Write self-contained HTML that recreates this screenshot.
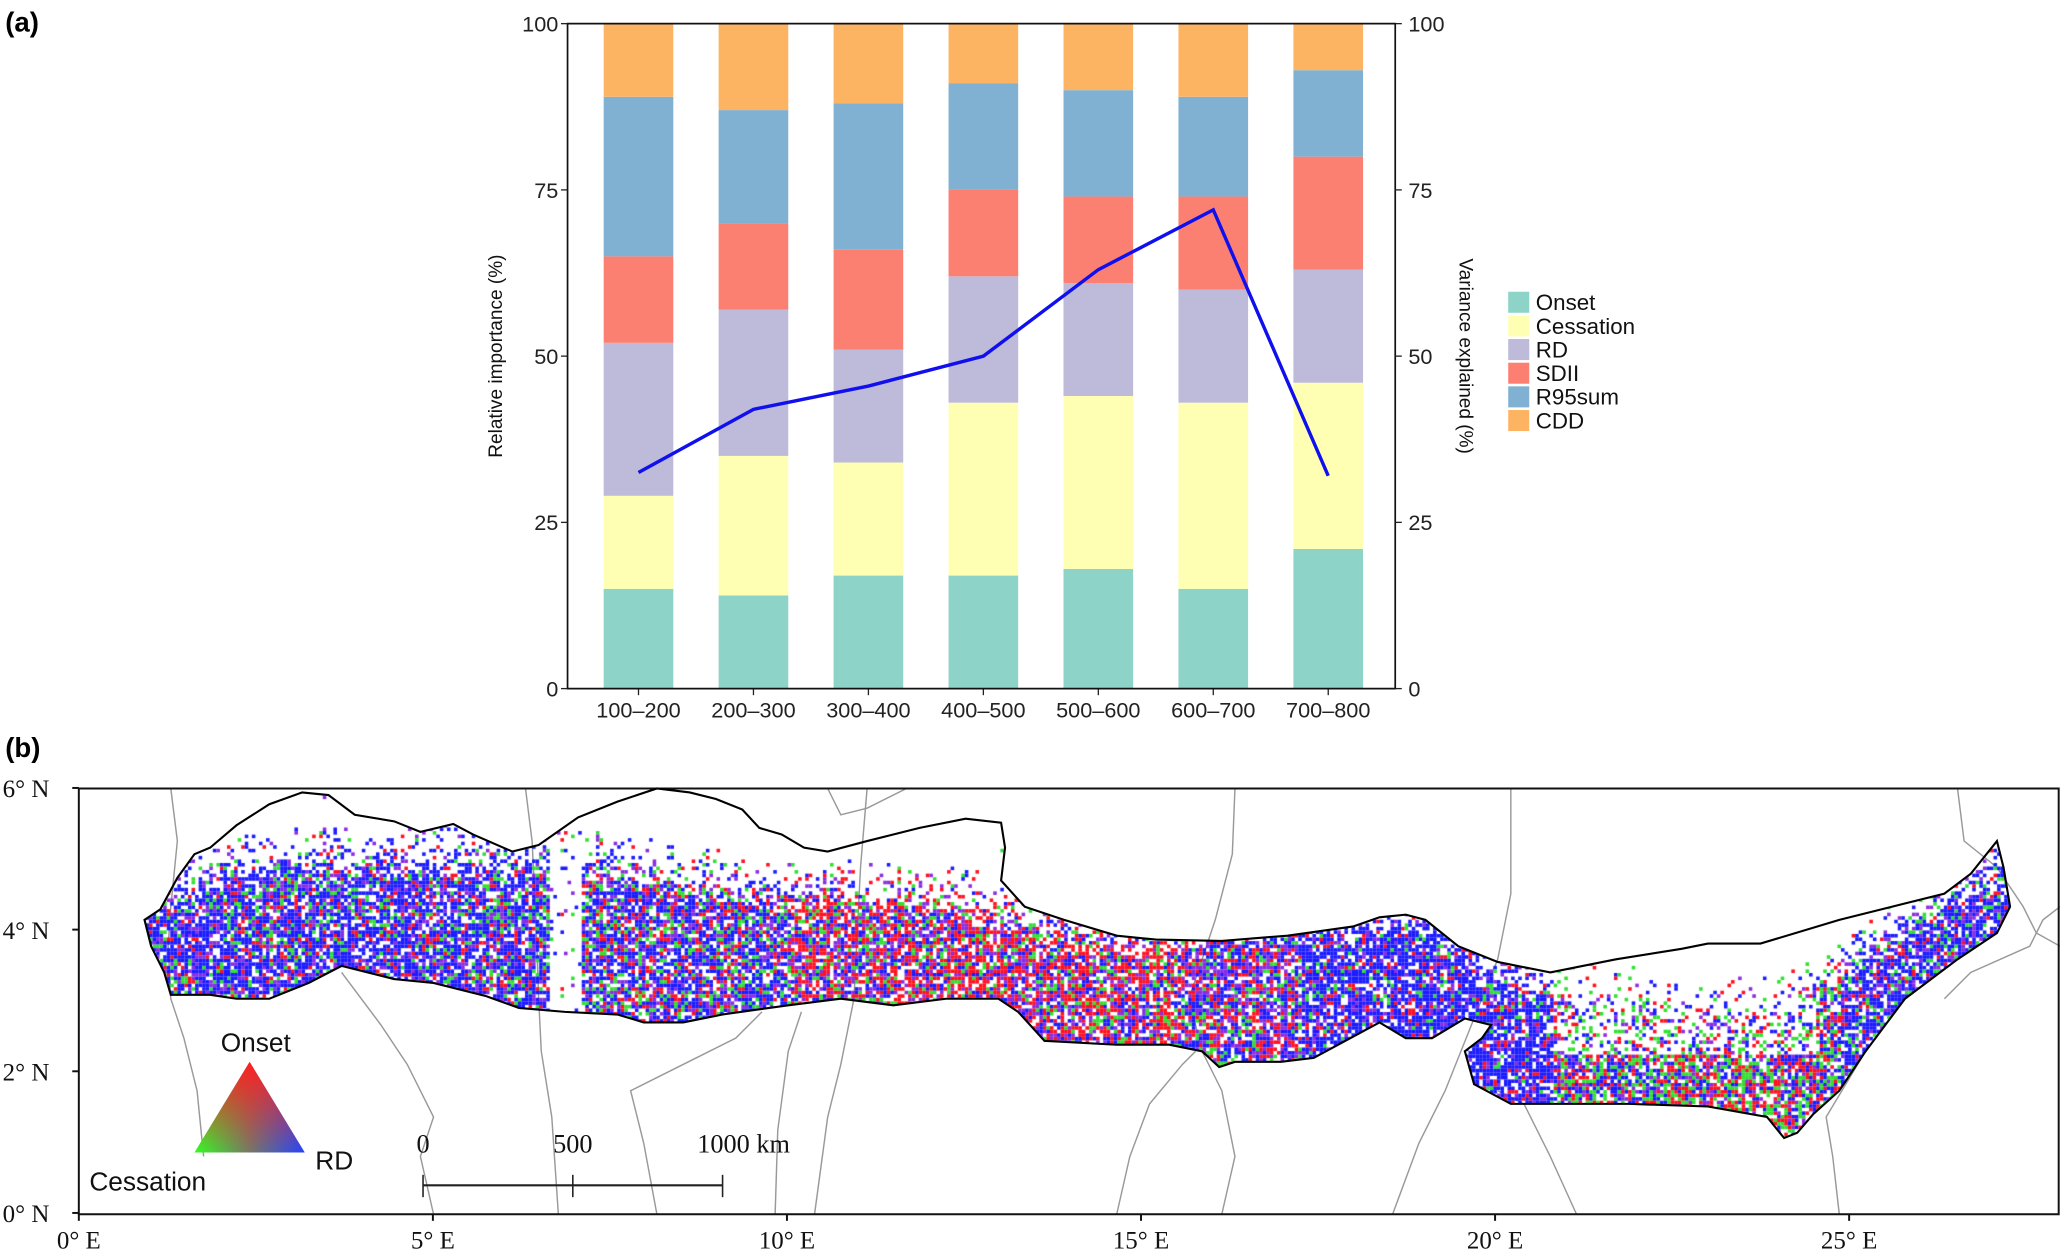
<!DOCTYPE html>
<html><head><meta charset="utf-8"><style>
html,body{margin:0;padding:0;background:#fff;}
#wrap{position:relative;width:2060px;height:1255px;overflow:hidden;}
svg,canvas{position:absolute;left:0;top:0;}
</style></head><body>
<div id="wrap">
<svg id="s" width="2060" height="1255" viewBox="0 0 1568 955" preserveAspectRatio="none">
<defs>
<linearGradient id="gb" x1="0" x2="1" y1="0" y2="0"><stop offset="0" stop-color="#33ff22"/><stop offset="0.5" stop-color="#777766"/><stop offset="1" stop-color="#2244ff"/></linearGradient>
<linearGradient id="gr" x1="0" x2="0" y1="0" y2="1"><stop offset="0" stop-color="#ff2020" stop-opacity="1"/><stop offset="1" stop-color="#ff2020" stop-opacity="0"/></linearGradient>
</defs>
<text x="4" y="24" font-family="Liberation Sans, sans-serif" font-weight="bold" font-size="21">(a)</text>
<text x="4" y="576" font-family="Liberation Sans, sans-serif" font-weight="bold" font-size="21">(b)</text>
<g id="chartA"></g>
<g id="mapB"></g>
</svg>
<canvas id="cv" width="2060" height="1255"></canvas>
<svg id="s2" width="2060" height="1255" viewBox="0 0 1568 955" preserveAspectRatio="none"><g id="ov"></g></svg>
</div>
<script>
const categories=["100–200","200–300","300–400","400–500","500–600","600–700","700–800"];
const seriesNames=["Onset","Cessation","RD","SDII","R95sum","CDD"];
const onset=[15,14,17,17,18,15,21];
const cessation=[14,21,17,26,26,28,25];
const rd=[23,22,17,19,17,17,17];
const sdii=[13,13,15,13,13,14,17];
const r95sum=[24,17,22,16,16,15,13];
const cdd=[11,13,12,9,10,11,7];
const varianceExplained=[32.5,42,45.5,50,63,72,32];
const yTicks=[0,25,50,75,100];
const colors=["#8dd3c7","#ffffb3","#bebada","#fb8072","#80b1d3","#fdb462"];
const NS="http://www.w3.org/2000/svg";
function mk(tag,attrs,parent){const e=document.createElementNS(NS,tag);for(const k in attrs)e.setAttribute(k,attrs[k]);parent.appendChild(e);return e;}
const L=432,R=1062,T=18,B=524;
const yS=v=>B-(v/100)*(B-T);
const xC=i=>486+i*((1011-486)/6);
const bw=53;
const g=document.getElementById('chartA');
const series=[onset,cessation,rd,sdii,r95sum,cdd];
categories.forEach((c,i)=>{let cum=0;series.forEach((s,k)=>{const r=mk('rect',{x:xC(i)-bw/2,y:yS(cum+s[i]),width:bw,height:yS(cum)-yS(cum+s[i]),fill:colors[k]},g);

cum+=s[i];});
const t=mk('text',{x:xC(i),y:546,'text-anchor':'middle','font-family':'Liberation Sans, sans-serif','font-size':'16.5',fill:'#222'},g);t.textContent=c;


mk('line',{x1:xC(i),x2:xC(i),y1:B,y2:B+5,stroke:'#222'},g);});
mk('path',{d:`M${L},${T}H${R}V${B}H${L}Z`,fill:'none',stroke:'#111','stroke-width':1.3},g);
yTicks.forEach(v=>{const a=mk('text',{x:425,y:yS(v)+6,'text-anchor':'end','font-family':'Liberation Sans, sans-serif','font-size':'16.5',fill:'#222'},g);a.textContent=v;


const b=mk('text',{x:1072,y:yS(v)+6,'font-family':'Liberation Sans, sans-serif','font-size':'16.5',fill:'#222'},g);b.textContent=v;


mk('line',{x1:L-5,x2:L,y1:yS(v),y2:yS(v),stroke:'#222'},g);mk('line',{x1:R,x2:R+5,y1:yS(v),y2:yS(v),stroke:'#222'},g);});
let yt=mk('text',{x:0,y:0,transform:'translate(382,271) rotate(-90)','text-anchor':'middle','font-family':'Liberation Sans, sans-serif','font-size':'14.5',fill:'#111'},g);yt.textContent='Relative importance (%)';


let yt2=mk('text',{x:0,y:0,transform:'translate(1111,271) rotate(90)','text-anchor':'middle','font-family':'Liberation Sans, sans-serif','font-size':'14.5',fill:'#111'},g);yt2.textContent='Variance explained (%)';


const ln=mk('polyline',{points:varianceExplained.map((v,i)=>xC(i)+','+yS(v)).join(' '),fill:'none',stroke:'#1010ee','stroke-width':2.6},g);


seriesNames.forEach((n,k)=>{const y=222+k*18;const r=mk('rect',{x:1148,y:y,width:16,height:16,fill:colors[k]},g);


const t=mk('text',{x:1169,y:y+14,'font-family':'Liberation Sans, sans-serif','font-size':'17',fill:'#111'},g);t.textContent=n;

});

// ---- Map panel ----
const m=document.getElementById('mapB');
const ML=60,MT=600,MB=924;
const lonX=l=>60+l*53.9, latY=a=>923-a*53.9;
const borders=["130,600 135,640 130,690 128,720 130,760 140,790 150,830 155,880",
"400,600 405,640 408,700 410,760 412,800 420,850 425,924",
"660,600 655,660 652,720 650,760 640,810 630,850 620,924",
"940,600 938,650 925,700 905,760 915,800 930,830 940,880 930,924",
"1150,600 1150,680 1140,730 1120,780 1100,830 1080,870 1060,924",
"1490,600 1495,640 1520,660 1540,690 1550,710 1568,720",
"330,924 320,880 330,850 310,810 290,780 260,740",
"500,924 490,870 480,830 520,810 560,790 580,770",
"590,924 592,860 600,800 610,770",
"850,924 860,880 875,840 900,810 910,800",
"1200,924 1180,880 1160,840 1140,830",
"1400,924 1395,880 1390,850 1420,800",
"630,600 640,620 660,615 690,600",
"1568,690 1555,700 1545,720 1500,740 1480,760"];
borders.forEach(p=>{const e=mk('polyline',{points:p,fill:'none',stroke:'#999','stroke-width':1.1},m);

});
const outline=[[110,700],[122,692],[135,668],[148,650],[160,645],[180,628],[205,612],[230,603],[250,605],[270,620],[300,625],[320,633],[345,627],[360,635],[390,648],[410,643],[440,622],[470,610],[500,600],[525,603],[545,608],[565,616],[578,630],[595,635],[612,645],[630,648],[660,640],[700,630],[735,623],[762,626],[765,645],[762,670],[780,690],[810,700],[850,712],[880,715],[930,716],[980,712],[1030,705],[1050,698],[1070,696],[1085,700],[1110,720],[1140,732],[1180,740],[1230,730],[1280,722],[1300,718],[1340,718],[1400,700],[1440,690],[1480,680],[1500,665],[1520,640],[1525,660],[1530,690],[1520,710],[1490,730],[1450,760],[1420,800],[1400,830],[1380,848],[1368,862],[1358,866],[1345,850],[1300,842],[1240,840],[1150,840],[1122,825],[1115,800],[1128,790],[1135,780],[1115,775],[1090,790],[1070,790],[1050,778],[1000,805],[975,808],[940,808],[928,812],[915,800],[890,795],[850,795],[795,792],[775,770],[760,760],[720,760],[680,765],[640,760],[600,765],[550,772],[520,778],[490,778],[470,772],[430,770],[395,767],[370,758],[330,748],[300,745],[260,735],[235,748],[205,760],[180,760],[160,757],[130,757],[125,740],[115,720]];
const fr=mk('path',{d:`M${ML},${MT}H1567V${MB}H${ML}Z`,fill:'none',stroke:'#111','stroke-width':1.5},m);


const latTicks=[0,2,4,6], lonTicks=[0,5,10,15,20,25];
latTicks.forEach(a=>{mk('line',{x1:ML-5,x2:ML,y1:latY(a),y2:latY(a),stroke:'#111','stroke-width':1.5},m);
const t=mk('text',{x:2,y:latY(a)+7,'font-family':'Liberation Serif, serif','font-size':'19',fill:'#111'},m);t.textContent=a+'° N';

});
lonTicks.forEach(l=>{mk('line',{x1:lonX(l),x2:lonX(l),y1:MB,y2:MB+5,stroke:'#111','stroke-width':1.5},m);
const t=mk('text',{x:lonX(l),y:950,'text-anchor':'middle','font-family':'Liberation Serif, serif','font-size':'19',fill:'#111'},m);t.textContent=l+'° E';

});

// raster texture: clipped to outline, density fades above a "data top" line
const topLine=[[110,690],[140,665],[180,655],[240,650],[330,652],[400,652],[470,655],[520,668],[600,676],[660,678],[720,682],[770,692],[850,712],[1050,698],[1075,697],[1100,705],[1130,728],[1170,745],[1230,758],[1300,762],[1360,760],[1400,735],[1450,700],[1490,672],[1520,660]];
function topAt(x){for(let i=1;i<topLine.length;i++){if(x<=topLine[i][0]){const a=topLine[i-1],b=topLine[i];return a[1]+(b[1]-a[1])*(x-a[0])/(b[0]-a[0]);}}return 660;}
const cv=document.getElementById('cv');const ctx=cv.getContext('2d');
ctx.scale(2060/1568,1255/955);
ctx.save();ctx.beginPath();outline.forEach((p,i)=>i?ctx.lineTo(p[0],p[1]):ctx.moveTo(p[0],p[1]));ctx.closePath();ctx.clip();
let seed=12345;const rnd=()=>{seed=(seed*1103515245+12345)%2147483648;return seed/2147483648;};
function weights(x){ // [red, green, blue, purple]
 if(x<430)return[0.12,0.14,0.58,0.16];
 if(x<600)return[0.18,0.18,0.46,0.18];
 if(x<900)return[0.4,0.16,0.24,0.2];
 if(x<990)return[0.3,0.12,0.36,0.22];
 if(x<1180)return[0.1,0.07,0.7,0.13];
 if(x<1400)return[0.27,0.3,0.33,0.1];
 return[0.1,0.13,0.62,0.15];}
const cols=['#ff1020','#30e030','#1a1aff','#8a2be2'];
const cs=2.7;
for(let x=108;x<1535;x+=cs){const ty=topAt(x);for(let y=600;y<875;y+=cs){
 let d=y-ty; let dens;
 if(d<-25)dens=0.004; else if(d<0)dens=0.05+0.25*(d+25)/25; else if(d<15)dens=0.35+0.4*d/15; else dens=0.8;
 if(x>418&&x<442&&y>640)dens=Math.min(dens,0.04);
 if(x>1180&&x<1380&&y<800)dens*=0.45;
 if(rnd()>dens)continue;const w=weights(x);let r=rnd(),k=0;while(k<3&&r>w[k]){r-=w[k];k++;}
 ctx.fillStyle=cols[k];ctx.fillRect(x,y,cs,cs);}}
ctx.restore();

const ov=document.getElementById('ov');
const ol=mk('polygon',{points:outline.map(p=>p.join(',')).join(' '),fill:'none',stroke:'#000','stroke-width':1.6},ov);


const tri='190,808 148,877 232,877';
const t1=mk('polygon',{points:tri,fill:'url(#gb)'},ov);


mk('polygon',{points:tri,fill:'url(#gr)'},ov);
[['Onset',168,800],['RD',240,890],['Cessation',68,906]].forEach(([s,x,y])=>{const t=mk('text',{x:x,y:y,'font-family':'Liberation Sans, sans-serif','font-size':'20',fill:'#111'},ov);t.textContent=s;

});
const sb=mk('g',{},ov);


mk('line',{x1:322,x2:550,y1:902,y2:902,stroke:'#222','stroke-width':1.6},sb);
[322,436,550].forEach(x=>mk('line',{x1:x,x2:x,y1:894,y2:911,stroke:'#222','stroke-width':1.2},sb));
[['0',322],['500',436],['1000 km',566]].forEach(([s,x])=>{const t=mk('text',{x:x,y:877,'text-anchor':'middle','font-family':'Liberation Serif, serif','font-size':'20',fill:'#111'},sb);t.textContent=s;});
</script>
</body></html>
